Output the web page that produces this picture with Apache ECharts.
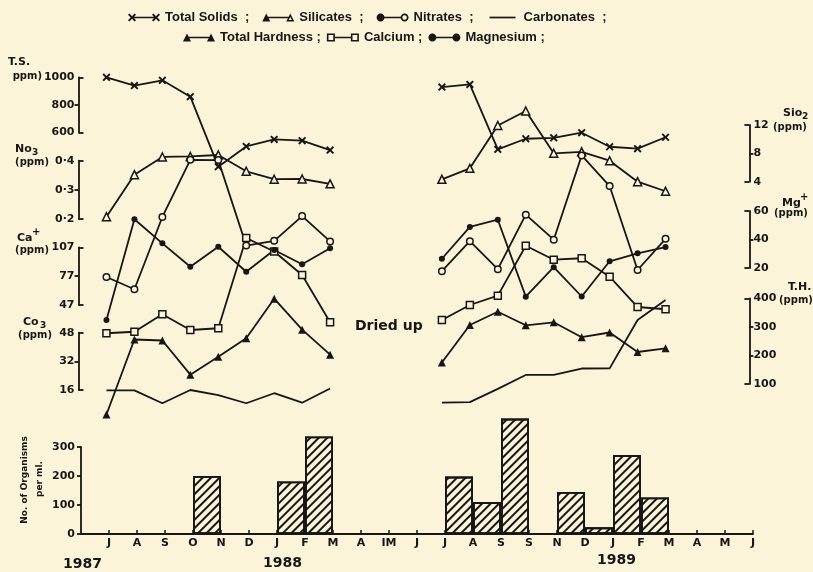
<!DOCTYPE html>
<html><head><meta charset="utf-8">
<script src="https://cdn.jsdelivr.net/npm/echarts@6/dist/echarts.min.js"></script>
<style>html,body{margin:0;padding:0;background:#fbf4d9}#c{width:813px;height:572px}</style>
</head><body><div id="c"></div>
<script>
// ---------------- data ----------------
// months Jul 1987 .. Jun 1989 (labels as printed)
const months = ['J','A','S','O','N','D','J','F','M','A','IM','J','J','A','S','S','N','D','J','F','M','A','M','J'];
const totalSolids   = [1000, 940, 978, 859, 350, 497, 548, 539, 471, null, null, null, 929, 948, 476, 553, 560, 597, 495, 481, 564, null, null, null];
const silicates     = [-0.94, 4.99, 7.49, 7.56, 7.77, 5.47, 4.35, 4.38, 3.70, null, null, null, 4.34, 5.89, 11.93, 13.98, 8.01, 8.22, 6.96, 4.00, 2.65, null, null, null];
const nitrates      = [0.001, -0.041, 0.207, 0.403, 0.402, 0.109, 0.125, 0.210, 0.123, null, null, null, 0.021, 0.124, 0.028, 0.215, 0.129, 0.418, 0.313, 0.025, 0.132, null, null, null];
const carbonates    = [15.8, 15.8, 8.6, 16.0, 13.2, 8.6, 14.2, 8.9, 16.8, null, null, null, 9.0, 9.2, 16.6, 24.4, 24.4, 28.0, 28.1, 55.1, 66.3, null, null, null];
const totalHardness = [-6.8, 255.8, 252.3, 132.6, 195.6, 260.0, 398.6, 290.1, 202.6, null, null, null, 175.3, 306.5, 353.1, 305.5, 316.0, 263.8, 280.3, 212.0, 225.0, null, null, null];
const calcium       = [17.6, 19.2, 37.3, 21.0, 22.8, 116.7, 102.6, 78.2, 29.0, null, null, null, 31.4, 47.0, 56.7, 108.6, 94.1, 95.6, 76.4, 44.9, 42.6, null, null, null];
const magnesium     = [-16.5, 54.2, 37.3, 20.9, 34.9, 17.4, 32.6, 22.6, 33.8, null, null, null, 26.5, 48.8, 53.9, -0.1, 20.6, 0.0, 24.7, 30.3, 34.7, null, null, null];
// organisms per ml, for each month-to-month interval (interval i = month i .. month i+1)
const organisms     = [null, null, null, 200, null, null, 181, 336, null, null, null, null, 198, 110, 398, null, 145, 23, 272, 126, null, null, null];

// tick values
const tsTicks  = [600, 800, 1000];
const no3Ticks = [0.2, 0.3, 0.4];
const caTicks  = [47, 77, 107];
const co3Ticks = [16, 32, 48];
const sioTicks = [4, 8, 12];
const mgTicks  = [20, 40, 60];
const thTicks  = [100, 200, 300, 400];
const orgTicks = [0, 100, 200, 300];

// ---------------- styling ----------------
const PAPER = '#fbf4d9';
const INK = '#161616';
const FONT = 'DejaVu Sans';
const LW = 1.8;

function pts(list){ return 'M' + list.map(p => p[0].toFixed(2) + ',' + p[1].toFixed(2)).join('L') + 'Z'; }
function circ(cx, cy, r, n, rev){ const a = []; for (let k = 0; k < n; k++){ const t = (rev ? -1 : 1) * 2 * Math.PI * k / n; a.push([cx + r*Math.cos(t), cy + r*Math.sin(t)]); } return a; }
const SHAPES = {
  cross: (x,y,s) => { const t = 0.17*s, h = s/2; return pts([[x,y+t],[x+t,y],[x+h,y+h-t],[x+s-t,y],[x+s,y+t],[x+h+t,y+h],[x+s,y+s-t],[x+s-t,y+s],[x+h,y+h+t],[x+t,y+s],[x,y+s-t],[x+h-t,y+h]]); },
  tri:   (x,y,s) => pts([[x+s/2,y],[x+s,y+s],[x,y+s]]),
  triO:  (x,y,s) => { const d = 0.19*s; return pts([[x+s/2,y],[x+s,y+s],[x,y+s]]) + pts([[x+s/2,y+2.24*d],[x+1.62*d,y+s-d],[x+s-1.62*d,y+s-d]]); },
  dot:   (x,y,s) => pts(circ(x+s/2, y+s/2, s/2, 18, false)),
  circO: (x,y,s) => pts(circ(x+s/2, y+s/2, s/2, 18, false)) + pts(circ(x+s/2, y+s/2, s/2 - 0.22*s, 18, true)),
  sqO:   (x,y,s) => { const d = 0.2*s; return pts([[x,y],[x+s,y],[x+s,y+s],[x,y+s]]) + pts([[x+d,y+d],[x+d,y+s-d],[x+s-d,y+s-d],[x+s-d,y+d]]); }
};
const EDGE = {cross:0.62, tri:0.72, triO:0.72, dot:0.92, circO:0.92, sqO:0.92};
function legendIcon(a, b){
  const W = 32, H = 8, s = 8, lw = 1.7;
  let p = 'M0,0L0,0M' + W + ',' + H + 'L' + W + ',' + H;
  const x0 = a ? EDGE[a]*s : 3, x1 = b ? W - EDGE[b]*s : W - 3;
  if (a) p += SHAPES[a](0, 0, s);
  p += pts([[x0, H/2 - lw/2], [x1, H/2 - lw/2], [x1, H/2 + lw/2], [x0, H/2 + lw/2]]);
  if (b) p += SHAPES[b](W - s, 0, s);
  return 'path://' + p;
}
const crossSymbol = 'path://' + SHAPES.cross(0, 0, 10);

// ---------------- layout ----------------
const UL = 78.5, UR = 63.6;
const gridBoxes = [
  {top: 77.3,  height: 55},    // 0 T.S.
  {top: 160.7, height: 58.3},  // 1 NO3
  {top: 247.3, height: 57.7},  // 2 Ca+
  {top: 332.7, height: 57.3},  // 3 CO3
  {top: 125,   height: 56.7},  // 4 SiO2
  {top: 211,   height: 57},    // 5 Mg+
  {top: 298.3, height: 85.7},  // 6 T.H.
  {top: 447,   height: 87, left: 81, right: 60} // 7 organisms
];
const grid = gridBoxes.map(g => ({left: g.left ?? UL, right: g.right ?? UR, top: g.top, height: g.height, outerBoundsMode: 'none', containLabel: false}));

const labelStyle = {color: INK, fontFamily: FONT, fontWeight: 'bold', fontSize: 11};
const plain = v => String(Math.round(v * 1000) / 1000);
function bracketAxes(gi, pos, ticks, fmt){
  const lo = ticks[0], hi = ticks[ticks.length - 1];
  const base = {type: 'value', gridIndex: gi, position: pos, min: lo, max: hi, splitLine: {show: false}, offset: 0};
  return [
    Object.assign({}, base, {
      axisLine: {show: true, onZero: false, lineStyle: {color: INK, width: LW}},
      axisTick: {show: true, inside: false, length: 4, customValues: ticks.slice(1, -1), lineStyle: {color: INK, width: LW}},
      axisLabel: Object.assign({show: true, customValues: ticks, margin: 4, formatter: fmt || plain}, labelStyle)
    }),
    Object.assign({}, base, {
      axisLine: {show: false, onZero: false},
      axisTick: {show: true, inside: true, length: 5, customValues: [lo, hi], lineStyle: {color: INK, width: LW}},
      axisLabel: {show: false}
    })
  ];
}
const yAxis = [].concat(
  bracketAxes(0, 'left', tsTicks),
  bracketAxes(1, 'left', no3Ticks, v => v.toFixed(1).replace('.', '·')),
  bracketAxes(2, 'left', caTicks),
  bracketAxes(3, 'left', co3Ticks),
  bracketAxes(4, 'right', sioTicks),
  bracketAxes(5, 'right', mgTicks),
  bracketAxes(6, 'right', thTicks),
  [{
    type: 'value', gridIndex: 7, position: 'left', min: 0, max: 300, splitLine: {show: false},
    axisLine: {show: true, onZero: false, lineStyle: {color: INK, width: LW}},
    axisTick: {show: true, inside: false, length: 4, customValues: orgTicks, lineStyle: {color: INK, width: LW}},
    axisLabel: Object.assign({customValues: orgTicks, margin: 6, formatter: plain}, labelStyle)
  }]
);
const xAxis = [];
for (let g = 0; g < 7; g++) xAxis.push({type: 'value', gridIndex: g, min: -1, max: 23, show: false, axisLine: {onZero: false}});
const monthIdx = months.map((m, i) => i);
xAxis.push({
  type: 'value', gridIndex: 7, min: -1, max: 23, splitLine: {show: false},
  axisLine: {show: true, onZero: false, lineStyle: {color: INK, width: LW}},
  axisTick: {show: true, inside: true, length: 4, customValues: monthIdx, lineStyle: {color: INK, width: 1.5}},
  axisLabel: Object.assign({customValues: monthIdx, margin: 4, formatter: v => months[v] ?? ''}, labelStyle)
});

const pairs = arr => arr.map((v, i) => [i, v == null ? '-' : v]);
function lineSeries(name, arr, gi, yi, symbol, size, filled){
  return {
    name, type: 'line', xAxisIndex: gi, yAxisIndex: yi, data: pairs(arr), clip: false, connectNulls: false,
    symbol, symbolSize: size, showSymbol: symbol !== 'none', silent: true,
    lineStyle: {color: INK, width: LW},
    itemStyle: filled ? {color: INK, borderWidth: 0} : {color: PAPER, borderColor: INK, borderWidth: 1.5},
    emphasis: {disabled: true}
  };
}
const series = [
  lineSeries('Total Solids', totalSolids, 0, 0, crossSymbol, 8, true),
  lineSeries('Silicates', silicates, 4, 8, 'triangle', 8, false),
  lineSeries('Nitrates', nitrates, 1, 2, 'circle', 6.5, false),
  lineSeries('Carbonates', carbonates, 3, 6, 'none', 0, true),
  lineSeries('Total Hardness', totalHardness, 6, 12, 'triangle', 8, true),
  lineSeries('Calcium', calcium, 2, 4, 'rect', 7, false),
  lineSeries('Magnesium', magnesium, 5, 10, 'circle', 6, true),
  {
    name: 'Organisms', type: 'bar', xAxisIndex: 7, yAxisIndex: 14, clip: false, silent: true,
    data: organisms.map((v, i) => v == null ? null : [i + 0.5, v]).filter(Boolean),
    barWidth: 28,
    itemStyle: {color: PAPER, borderColor: INK, borderWidth: LW,
      decal: {symbol: 'rect', symbolSize: 1, dashArrayX: [1, 0], dashArrayY: [1.8, 3.2], rotation: -Math.PI / 4, color: INK}}
  }
];

const legendText = {fontFamily: 'Liberation Sans', fontWeight: 'bold', fontSize: 13, color: INK};
const li = (name, a, b) => ({name, icon: legendIcon(a, b), itemStyle: {color: INK, borderWidth: 0}});
const legend = [
  {left: 128, top: 11, itemWidth: 32, itemHeight: 8, itemGap: 13, selectedMode: false, padding: 0,
   formatter: n => n + '  ;', textStyle: legendText,
   data: [li('Total Solids', 'cross', 'cross'), li('Silicates', 'tri', 'triO'), li('Nitrates', 'dot', 'circO'), li('Carbonates', null, null)]},
  {left: 183, top: 31, itemWidth: 32, itemHeight: 8, itemGap: 6, selectedMode: false, padding: 0,
   formatter: n => n + ' ;', textStyle: legendText,
   data: [li('Total Hardness', 'tri', 'tri'), li('Calcium', 'sqO', 'sqO'), li('Magnesium', 'dot', 'dot')]}
];

function txt(text, x, y, opts){
  opts = opts || {};
  return {type: 'text', x, y, rotation: opts.rot || 0, silent: true,
    style: {text, fill: INK, font: 'bold ' + (opts.size || 11) + 'px "' + (opts.family || FONT) + '"',
      textAlign: opts.align || 'left', textVerticalAlign: 'middle'}};
}
const graphic = [
  txt('T.S.', 8, 62),
  txt('ppm)', 42, 76, {align: 'right', size: 10}),
  txt('No', 15, 149), txt('3', 32, 153, {size: 9}),
  txt('(ppm)', 49, 162, {align: 'right', size: 10}),
  txt('Ca', 17, 238), txt('+', 32, 232, {size: 10}),
  txt('(ppm)', 49, 250, {align: 'right', size: 10}),
  txt('Co', 23, 322), txt('3', 40, 326, {size: 9}),
  txt('(ppm)', 52, 335, {align: 'right', size: 10}),
  txt('Sio', 783, 113), txt('2', 802, 117, {size: 9}),
  txt('(ppm)', 773, 127, {size: 10}),
  txt('Mg', 782, 203), txt('+', 800, 197, {size: 10}),
  txt('(ppm)', 774, 213, {size: 10}),
  txt('T.H.', 788, 287),
  txt('(ppm)', 779, 300, {size: 10}),
  txt('Dried up', 355, 326, {size: 14}),
  txt('1987', 63, 564, {size: 14}),
  txt('1988', 263, 563, {size: 14}),
  txt('1989', 597, 560, {size: 14}),
  txt('No. of Organisms', 24.5, 480, {size: 9, align: 'center', rot: Math.PI / 2}),
  txt('per ml.', 40, 479, {size: 9, align: 'center', rot: Math.PI / 2})
];

const chart = echarts.init(document.getElementById('c'), null, {renderer: 'canvas'});
chart.setOption({
  backgroundColor: PAPER,
  animation: false,
  tooltip: {show: false},
  grid, xAxis, yAxis, series, legend, graphic
});
</script></body></html>
